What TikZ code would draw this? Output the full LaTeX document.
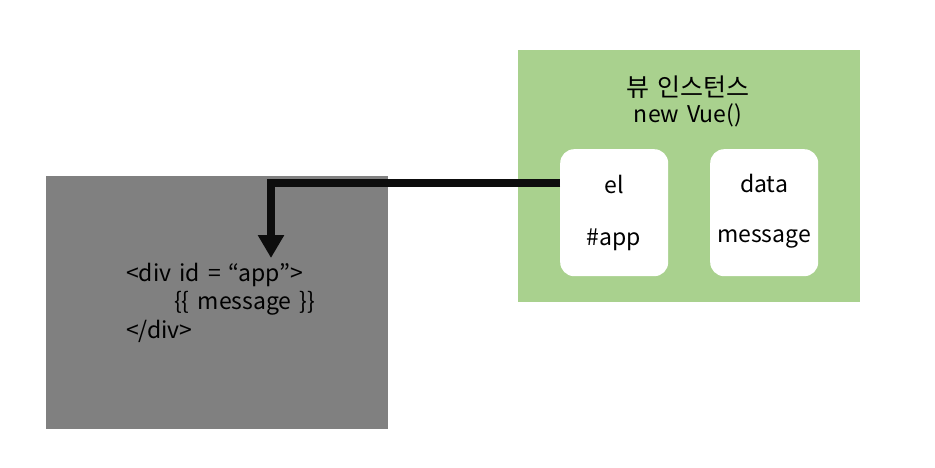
\documentclass[tikz,border=0pt]{standalone}
\usepackage{fontspec}
\setmainfont{Noto Sans CJK KR}
\usetikzlibrary{arrows.meta}
\definecolor{vgreen}{HTML}{A9D18E}
\definecolor{vgray}{HTML}{808080}
\definecolor{vline}{HTML}{0D0D0D}
\newcommand{\lblfont}{\fontsize{23}{27}\selectfont\spaceskip=8pt\relax}
\newcommand{\ttlfont}{\fontsize{25}{29}\selectfont\spaceskip=8pt\relax}
\tikzset{
  px/.style={x=1pt,y=-1pt},
  panel/.style={anchor=north west, inner sep=0pt, outer sep=0pt},
  card/.style={fill=white, rounded corners=14pt, anchor=north west, inner sep=0pt, minimum width=108pt, minimum height=127pt},
  lbl/.style={font=\lblfont, text=black, inner sep=0pt},
  conn/.style={draw=vline, line width=8pt, -{Triangle[length=23pt,width=25pt]}}
}
\begin{document}
\begin{tikzpicture}[px]
\useasboundingbox (0,0) rectangle (935,468);
\node[panel, fill=vgray, minimum width=342pt, minimum height=253pt] (gray) at (46,176) {};
\node[panel, fill=vgreen, minimum width=342pt, minimum height=252pt] (green) at (518,50) {};
\node[card] (el) at (560,149) {};
\node[card] (data) at (710,149) {};
\node[lbl, font=\ttlfont] (title) at (688,87) {뷰 인스턴스};
\node[lbl] (vue) at (688,115) {new Vue()};
\node[lbl] (elt) at (614,184) {el};
\node[lbl] (app) at (614,240) {\#app};
\node[lbl] (datat) at (764,183) {data};
\node[lbl] (msg) at (764,239) {message};
\node[lbl, anchor=west] (l1) at (126,275) {<div id = “app”>};
\node[lbl, anchor=west] (l2) at (174,303) {\{\{ message \}\}};
\node[lbl, anchor=west] (l3) at (126,331) {</div>};
\coordinate (tip) at (271,258);
\draw[conn] (el.west |- 0,183) -| (tip);
\end{tikzpicture}
\end{document}
